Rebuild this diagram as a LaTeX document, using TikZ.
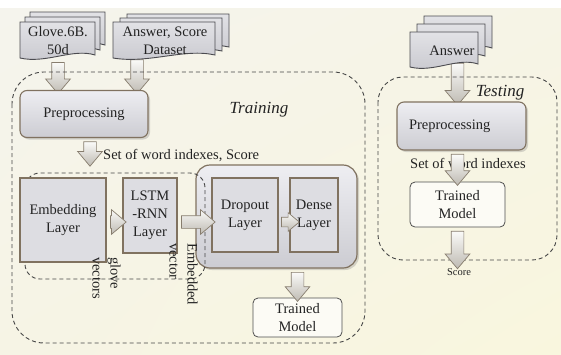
\documentclass[tikz,border=0pt]{standalone}
\usepackage{fontspec}
\setmainfont{Liberation Serif}
\usetikzlibrary{shapes.arrows,shadows,calc,shadings}

\pgfdeclarelayer{back}
\pgfdeclarelayer{under}
\pgfsetlayers{back,under,main}

\definecolor{paperUL}{RGB}{245,244,237}
\definecolor{paperUR}{RGB}{246,244,230}
\definecolor{paperLL}{RGB}{246,244,229}
\definecolor{paperLR}{RGB}{249,246,222}
\definecolor{ink}{RGB}{35,35,35}
\definecolor{frame}{RGB}{128,114,96}
\definecolor{boxtop}{RGB}{238,238,242}
\definecolor{boxbot}{RGB}{204,204,210}
\definecolor{layerfill}{RGB}{221,221,226}
\definecolor{modelfill}{RGB}{252,251,245}
\definecolor{dashcol}{RGB}{70,70,70}
\definecolor{docline}{RGB}{75,75,80}
\definecolor{docA}{RGB}{226,226,230}
\definecolor{docB}{RGB}{200,200,206}
\definecolor{arrowline}{RGB}{135,125,110}
\definecolor{arrowA}{RGB}{250,250,248}
\definecolor{arrowB}{RGB}{190,186,178}

\tikzset{
  txt/.style={font=\fontsize{14.5}{18}\selectfont, text=ink, align=center},
  procbox/.style={txt, draw=frame, line width=1.1pt, rounded corners=7pt,
    top color=boxtop, bottom color=boxbot,
    drop shadow={opacity=0.3, shadow xshift=2pt, shadow yshift=-2pt}},
  layerbox/.style={txt, draw=frame, line width=1.3pt, fill=layerfill, inner sep=2pt},
  holder/.style={draw=frame, line width=1.2pt, rounded corners=14pt,
    top color=boxtop, bottom color=boxbot,
    drop shadow={opacity=0.3, shadow xshift=2pt, shadow yshift=-2pt}},
  modelbox/.style={txt, draw=ink!80, line width=0.8pt, fill=modelfill, rounded corners=5pt},
  region/.style={draw=dashcol, line width=0.9pt, dash pattern=on 4pt off 3pt},
  sheet/.style={draw=docline, line width=0.9pt, top color=docA, bottom color=docB},
  fatarrow/.style={single arrow, draw=arrowline, line width=0.7pt,
    inner xsep=0pt, inner ysep=6pt, single arrow head extend=6pt,
    single arrow tip angle=80, top color=arrowA, bottom color=arrowB},
  phase/.style={font=\itshape\fontsize{17}{20}\selectfont, text=ink},
}

% one sheet of paper with a wavy lower edge: x1, y1, x2, y2 (y grows downwards)
\newcommand\sheet[5][]{%
  \path[sheet,#1] (#2,#3) -- (#4,#3) -- (#4,{#5-3})
    .. controls ({#4-0.3*(#4-#2)},{#5-10}) and ({#2+0.35*(#4-#2)},{#5+6}) .. (#2,#5) -- cycle;}
% three stacked sheets, offset by (dx,dy) each
\newcommand\sheetstack[6]{%
  \sheet[shift={({2*#5},{2*#6})}]{#1}{#2}{#3}{#4}%
  \sheet[shift={(#5,#6)}]{#1}{#2}{#3}{#4}%
  \sheet{#1}{#2}{#3}{#4}}
% hollow block arrow from one point to another
\newcommand\barrow[3][]{%
  \path let \p1=(#2), \p2=(#3), \n1={veclen(\x2-\x1,\y2-\y1)},
    \n2={atan2(\y2-\y1,\x2-\x1)} in
    node[fatarrow, #1, minimum height=\n1, rotate=\n2] at ($(\p1)!0.5!(\p2)$) {};}

\begin{document}
\begin{tikzpicture}[x=1pt,y=-1pt]
\useasboundingbox (0,0) rectangle (561,354);

\begin{pgfonlayer}{back}
  \fill[white] (0,0) rectangle (561,354);
  \shade[upper left=paperUL, upper right=paperUR, lower left=paperLL, lower right=paperLR]
    (0,8) rectangle (561,354);
\end{pgfonlayer}

% ---------------- training ----------------
\draw[region, rounded corners=32pt] (12,72) rectangle (365,343);
\node[phase] (trainlbl) at (259,110) {Training};

\sheetstack{20}{22}{95}{58}{5}{-5}
\node[txt] (glove) at (58,41) {Glove.6B.\\50d};
\sheetstack{113}{22}{215}{58}{7}{-4}
\node[txt] (ansset) at (165,41) {Answer, Score\\Dataset};
\coordinate (ansfoot) at (137,56);

\node[procbox, minimum width=128pt, minimum height=47pt] (prepL) at (84,114) {Preprocessing};

\node[txt, anchor=west, inner sep=0pt] (setL) at (103,156) {Set of word indexes, Score};
\coordinate (prepfoot) at ([xshift=6pt]prepL.south);

\node[holder, minimum width=161pt, minimum height=103pt] (holder) at (276.5,216.5) {};
\draw[region, rounded corners=15pt] (25,173) rectangle (205,279);

\node[layerbox, minimum width=86pt, minimum height=84pt] (emb) at (63,220) {Embedding\\Layer};
\node[layerbox, minimum width=54pt, minimum height=75pt] (lstm) at (150,215.5) {LSTM\\-RNN\\Layer};
\node[layerbox, minimum width=66pt, minimum height=74pt] (drop) at (245,215) {Dropout\\Layer};
\node[layerbox, minimum width=48pt, minimum height=74pt] (dense) at (314,215) {Dense\\Layer};
\coordinate (rowy) at (0,222);
\coordinate (densein) at ([xshift=7pt]dense.west);

\node[txt, rotate=-90, align=left, anchor=north west, inner sep=0pt] (glovevec) at (121,257) {glove\\vectors};
\node[txt, rotate=-90, align=left, anchor=north west, inner sep=0pt] (embvec) at (198,243) {Embedded\\vector};

\node[modelbox, minimum width=89pt, minimum height=39pt] (modelL) at (297.5,317.5) {Trained\\Model};

\barrow{prepfoot}{prepfoot |- setL.south}
\barrow{emb.east |- rowy}{lstm.west |- rowy}
\barrow{lstm.east |- rowy}{drop.west |- rowy}
\barrow[inner ysep=4.5pt, single arrow head extend=4.5pt]{drop.east |- rowy}{densein |- rowy}
\barrow{holder.south -| modelL.north}{modelL.north}

% ---------------- testing ----------------
\draw[region, rounded corners=25pt] (378,77) rectangle (557,260);
\node[phase] (testlbl) at (500,93) {Testing};

\sheetstack{410}{32}{478}{67}{7}{-8}
\node[txt] (ansR) at (452,51) {Answer};

\node[procbox, minimum width=129pt, minimum height=48pt, text width=105pt,
      align=left, inner xsep=12pt] (prepR) at (461.5,126) {Preprocessing};
\node[txt, anchor=west, inner sep=0pt] (setR) at (410,163) {Set of word indexes};
\node[modelbox, minimum width=95pt, minimum height=45pt] (modelR) at (457.5,204.5) {Trained\\Model};
\node[txt, font=\fontsize{10.5}{12}\selectfont] (scoreR) at (459,272) {Score};

\barrow{modelR.north |- prepR.south}{modelR.north}
\barrow{modelR.south}{modelR.south |- scoreR.north}

\begin{pgfonlayer}{under}
  \barrow{glove.south}{glove.south |- prepL.north}
  \barrow{ansfoot}{ansfoot |- prepL.north}
  \barrow{modelR.north |- ansR.south}{modelR.north |- prepR.north}
\end{pgfonlayer}
\end{tikzpicture}
\end{document}
